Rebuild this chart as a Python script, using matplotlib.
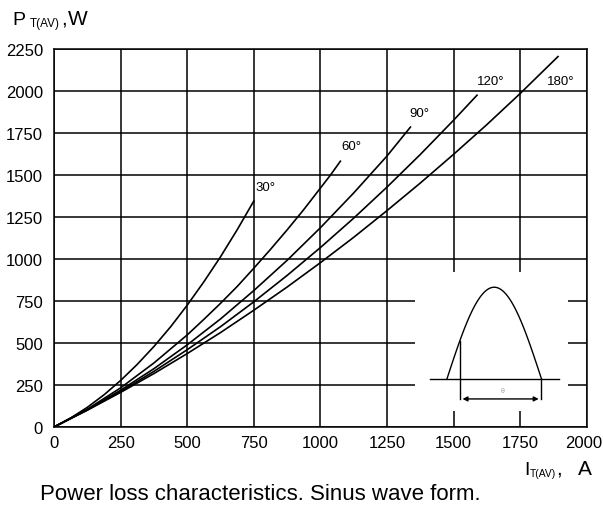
import numpy as np
import matplotlib.pyplot as plt
import matplotlib.transforms as mtransforms
from matplotlib.patches import Rectangle, FancyArrowPatch

plt.rcParams['font.family'] = ['Liberation Sans', 'DejaVu Sans']

# ---- curve data (I_T(AV) in A, P_T(AV) in W) ----
i_180 = [0, 125, 250, 375, 500, 625, 750, 875, 1000, 1125, 1250, 1375, 1500, 1625, 1750, 1892]
p_180 = [0, 100, 206, 318, 437, 562, 695, 833, 978, 1129, 1288, 1452, 1623, 1800, 1985, 2205]

i_120 = [0, 125, 250, 375, 500, 625, 750, 875, 1000, 1125, 1250, 1375, 1500, 1588]
p_120 = [0, 101, 211, 331, 460, 597, 745, 902, 1068, 1243, 1428, 1622, 1826, 1975]

i_90 = [0, 125, 250, 375, 500, 625, 750, 875, 1000, 1125, 1250, 1338]
p_90 = [0, 103, 219, 347, 489, 643, 812, 992, 1186, 1393, 1613, 1785]

i_60 = [0, 125, 250, 375, 500, 562, 625, 688, 750, 812, 875, 938, 1000, 1038, 1075]
p_60 = [0, 106, 233, 381, 548, 640, 736, 837, 945, 1056, 1173, 1295, 1422, 1500, 1582]

i_30 = [0, 62, 125, 188, 250, 312, 375, 438, 500, 562, 625, 688, 750]
p_30 = [0, 53, 117, 192, 277, 372, 479, 597, 725, 863, 1013, 1175, 1345]

curve_labels = ["30°", "60°", "90°", "120°", "180°"]
label_pos = [(758, 1430), (1077, 1673), (1333, 1869), (1586, 2058), (1849, 2058)]

x_ticks = [0, 250, 500, 750, 1000, 1250, 1500, 1750, 2000]
y_ticks = [0, 250, 500, 750, 1000, 1250, 1500, 1750, 2000, 2250]

fig = plt.figure(figsize=(6.03, 5.10), dpi=100)
ax = fig.add_axes([0.0896, 0.1608, 0.8835, 0.7412])

ax.set_xlim(0, 2000)
ax.set_ylim(0, 2250)
ax.set_xticks(x_ticks)
ax.set_yticks(y_ticks)
ax.tick_params(length=0, labelsize=12)
ax.tick_params(axis="y", pad=8)
ax.tick_params(axis="x", pad=6)
ax.grid(True, color="black", linewidth=1.1)
ax.set_axisbelow(True)
for s in ax.spines.values():
    s.set_linewidth(1.1)

# pull the last x tick label slightly left so it stays inside the figure
last = ax.get_xticklabels()[-1]
last.set_transform(last.get_transform() + mtransforms.ScaledTranslation(-3 / 100, 0, fig.dpi_scale_trans))

for xs, ys in [(i_30, p_30), (i_60, p_60), (i_90, p_90), (i_120, p_120), (i_180, p_180)]:
    ax.plot(xs, ys, color="black", linewidth=1.2, zorder=3)

for txt, (tx, ty) in zip(curve_labels, label_pos):
    ax.text(tx, ty, txt, fontsize=9.5, ha="left", va="center", zorder=4)

# ---- inset: conduction angle sketch ----
ax.add_patch(Rectangle((1355, 95), 574, 828, facecolor="white", edgecolor="none", zorder=1.5))
ax.plot([1411, 1895], [286, 286], color="black", linewidth=1.0, zorder=3)
t = np.linspace(1475, 1830, 80)
wave = 286 + 546 * np.sin(np.pi * (t - 1475) / (1830 - 1475))
ax.plot(t, wave, color="black", linewidth=1.0, zorder=3)
fire_y = 286 + 546 * np.sin(np.pi * (1523 - 1475) / (1830 - 1475))
ax.plot([1523, 1523], [167, fire_y], color="black", linewidth=1.0, zorder=3)
ax.plot([1830, 1830], [167, 286], color="black", linewidth=1.0, zorder=3)
ax.add_patch(FancyArrowPatch((1523, 167), (1830, 167), arrowstyle="<|-|>", mutation_scale=7,
                             color="black", linewidth=1.0, zorder=3))
ax.text(1685, 215, "θ", fontsize=5, color="#999999", ha="center", va="center", zorder=4)

# ---- axis captions ----
fig.text(0.020, 0.951, "P", fontsize=14, ha="left", va="baseline")
fig.text(0.050, 0.947, "T(AV)", fontsize=8.5, ha="left", va="baseline")
fig.text(0.102, 0.951, ",", fontsize=15, ha="left", va="baseline")
fig.text(0.113, 0.951, "W", fontsize=15, ha="left", va="baseline")

fig.text(0.869, 0.069, "I", fontsize=14, ha="left", va="baseline")
fig.text(0.879, 0.064, "T(AV)", fontsize=7.5, ha="left", va="baseline")
fig.text(0.923, 0.069, ",", fontsize=15, ha="left", va="baseline")
fig.text(0.958, 0.069, "A", fontsize=15, ha="left", va="baseline")

fig.text(0.066, 0.020, "Power loss characteristics. Sinus wave form.", fontsize=16,
         ha="left", va="baseline")

fig.savefig("out.png", dpi=100)
